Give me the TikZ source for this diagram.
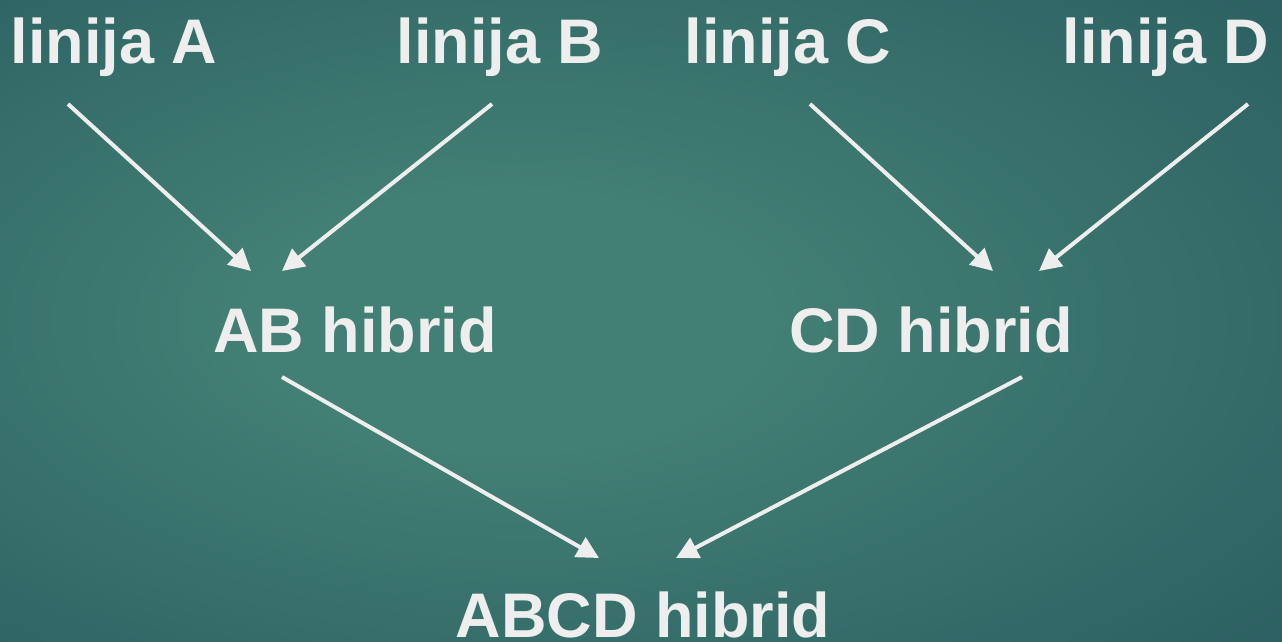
\documentclass[tikz,border=0pt]{standalone}
\usepackage{fontspec}
\setmainfont{Liberation Sans}
\usetikzlibrary{arrows.meta}
\definecolor{bgin}{HTML}{427F74}
\definecolor{bgout}{HTML}{1F4E58}
\definecolor{fg}{HTML}{EEEEEE}
\pgfdeclareradialshading{bgshade}{\pgfpoint{-6bp}{0bp}}{color(0bp)=(bgin); color(10bp)=(bgin); color(54bp)=(bgout); color(72bp)=(bgout)}
\tikzset{
  lbl/.style={text=fg, font=\fontsize{63}{69}\selectfont\bfseries, inner sep=0pt, anchor=base},
  conn/.style={draw=fg, line width=4pt, -{Triangle[length=22pt,width=22pt]}}
}
\begin{document}
\begin{tikzpicture}[x=1pt,y=-1pt]
\shade[shading=bgshade] (0,0) rectangle (1282,641);
\useasboundingbox (0,0) rectangle (1282,641);
\node[lbl] (A) at (114,63) {linija A};
\node[lbl] (B) at (500,63) {linija B};
\node[lbl] (C) at (788,63) {linija C};
\node[lbl] (D) at (1166,63) {linija D};
\node[lbl] (AB) at (355,352) {AB hibrid};
\node[lbl] (CD) at (931,352) {CD hibrid};
\node[lbl] (ABCD) at (643,637) {ABCD hibrid};
\coordinate (a1) at (68,104);
\coordinate (a2) at (251,271);
\coordinate (b1) at (492,104);
\coordinate (b2) at (282,271);
\coordinate (c1) at (810,104);
\coordinate (c2) at (993,271);
\coordinate (d1) at (1248,104);
\coordinate (d2) at (1039,271);
\coordinate (e1) at (282,377);
\coordinate (e2) at (599,558);
\coordinate (f1) at (1022,377);
\coordinate (f2) at (676,558);
\draw[conn] (a1) -- (a2);
\draw[conn] (b1) -- (b2);
\draw[conn] (c1) -- (c2);
\draw[conn] (d1) -- (d2);
\draw[conn] (e1) -- (e2);
\draw[conn] (f1) -- (f2);
\end{tikzpicture}
\end{document}
